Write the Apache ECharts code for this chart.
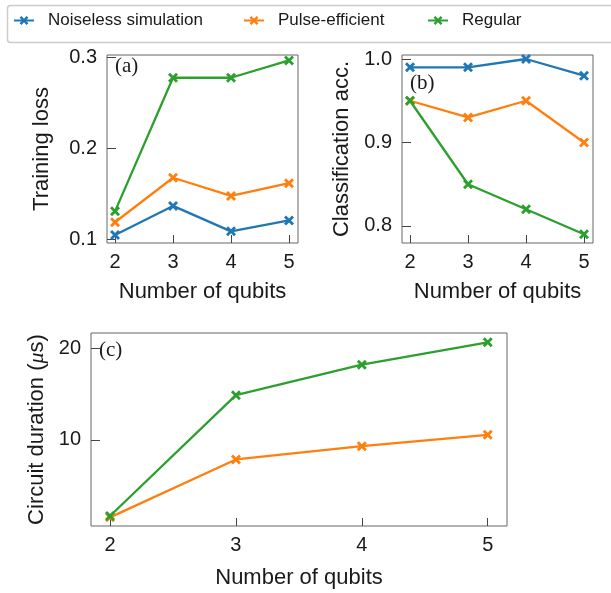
<!DOCTYPE html>
<html>
<head>
<meta charset="utf-8">
<script src="https://cdn.jsdelivr.net/npm/echarts@6/dist/echarts.min.js"></script>
<style>
html,body{margin:0;padding:0;background:#fff;}
#chart{width:611px;height:593px;}
</style>
</head>
<body>
<div id="chart"></div>
<script>
// ---- data ----
const qubits = [2, 3, 4, 5];
const seriesNames = ['Noiseless simulation', 'Pulse-efficient', 'Regular'];
const lossNoiseless = [0.105, 0.137, 0.109, 0.121];
const lossPulse = [0.119, 0.168, 0.148, 0.162];
const lossRegular = [0.131, 0.278, 0.278, 0.297];
const accNoiseless = [0.99, 0.99, 1.0, 0.98];
const accPulse = [0.95, 0.93, 0.95, 0.90];
const accRegular = [0.95, 0.85, 0.82, 0.79];
const durPulse = [1.5, 7.85, 9.3, 10.55];
const durRegular = [1.65, 14.9, 18.25, 20.7];
const panelLabels = ['(a)', '(b)', '(c)'];

const colors = ['#1f77b4', '#ff7f0e', '#2ca02c'];
const FONT = 'Liberation Sans';
const SERIF = 'Liberation Serif';
const XSYM = 'path://M0,2L2,0L5,3L8,0L10,2L7,5L10,8L8,10L5,7L2,10L0,8L3,5Z';

const pairs = (ys) => qubits.map((q, i) => [q, ys[i]]);

function xAxis(gridIndex, min, max, nameGap) {
  return {
    type: 'value', gridIndex, min, max, splitNumber: 3,
    name: 'Number of qubits', nameLocation: 'middle', nameGap,
    nameTextStyle: {fontFamily: FONT, fontSize: 22, color: '#1a1a1a'},
    axisLine: {show: false},
    axisTick: {show: true, inside: true, length: 8, lineStyle: {color: '#444', width: 1}},
    axisLabel: {showMinLabel: false, showMaxLabel: false, margin: 9,
      fontFamily: FONT, fontSize: 20, color: '#1a1a1a', formatter: v => String(Math.round(v))},
    splitLine: {show: false}
  };
}
function yAxis(gridIndex, min, max, name, nameGap, fmt, rich) {
  return {
    type: 'value', gridIndex, min, max, splitNumber: 2,
    name, nameLocation: 'middle', nameGap,
    nameTextStyle: {fontFamily: FONT, fontSize: 22, color: '#1a1a1a', rich: rich || {}},
    axisLine: {show: false},
    axisTick: {show: true, inside: true, length: 9, lineStyle: {color: '#444', width: 1}},
    axisLabel: {showMinLabel: false, showMaxLabel: false, margin: 10,
      fontFamily: FONT, fontSize: 20, color: '#1a1a1a', formatter: fmt},
    splitLine: {show: false}
  };
}
function line(name, xi, ys, colorIdx) {
  return {
    name, type: 'line', xAxisIndex: xi, yAxisIndex: xi,
    data: pairs(ys), symbol: XSYM, symbolSize: 10, showSymbol: true,
    lineStyle: {width: 2.3, color: colors[colorIdx]},
    itemStyle: {color: colors[colorIdx]},
    animation: false
  };
}
function legend(name, left) {
  return {
    data: [name], left, top: 12, padding: 0,
    itemWidth: 20, itemHeight: 11,
    textStyle: {fontFamily: FONT, fontSize: 17, color: '#1a1a1a', padding: [0, 0, 0, 9]}
  };
}

const chart = echarts.init(document.getElementById('chart'), null, {renderer: 'canvas'});
const gridStyle = {show: true, borderColor: '#666666', borderWidth: 1, backgroundColor: 'transparent'};
chart.setOption({
  animation: false,
  color: colors,
  legend: [
    legend(seriesNames[0], 13),
    legend(seriesNames[1], 243),
    legend(seriesNames[2], 427)
  ],
  grid: [
    Object.assign({left: 107, top: 55, width: 191, height: 188}, gridStyle),
    Object.assign({left: 402, top: 55, width: 191, height: 188}, gridStyle),
    Object.assign({left: 91, top: 333, width: 416, height: 193}, gridStyle)
  ],
  xAxis: [
    xAxis(0, 1.862, 5.155, 38),
    xAxis(1, 1.862, 5.155, 38),
    xAxis(2, 1.849, 5.153, 41)
  ],
  yAxis: [
    yAxis(0, 0.0962, 0.3030, 'Training loss', 54, v => v.toFixed(1)),
    yAxis(1, 0.7796, 1.0048, 'Classification acc.', 49, v => v.toFixed(1)),
    yAxis(2, 0.55, 21.72, '{t|Circuit duration (}{m|μ}{t|s)}', 38, v => String(Math.round(v)),
      {t: {fontFamily: FONT, fontSize: 22, color: '#1a1a1a'},
       m: {fontFamily: SERIF, fontStyle: 'italic', fontSize: 22, color: '#1a1a1a'}})
  ],
  series: [
    line(seriesNames[0], 0, lossNoiseless, 0),
    line(seriesNames[1], 0, lossPulse, 1),
    line(seriesNames[2], 0, lossRegular, 2),
    line(seriesNames[0], 1, accNoiseless, 0),
    line(seriesNames[1], 1, accPulse, 1),
    line(seriesNames[2], 1, accRegular, 2),
    line(seriesNames[1], 2, durPulse, 1),
    line(seriesNames[2], 2, durRegular, 2)
  ],
  graphic: [
    {type: 'rect', left: 5, top: 3, shape: {width: 640, height: 37, r: 3},
     style: {fill: 'none', stroke: '#cccccc', lineWidth: 1.5}, z: -1},
    {type: 'text', left: 115, top: 56, style: {text: panelLabels[0], font: '21px "' + SERIF + '"', fill: '#1a1a1a'}},
    {type: 'text', left: 410, top: 73, style: {text: panelLabels[1], font: '21px "' + SERIF + '"', fill: '#1a1a1a'}},
    {type: 'text', left: 99, top: 340, style: {text: panelLabels[2], font: '21px "' + SERIF + '"', fill: '#1a1a1a'}}
  ]
});
</script>
</body>
</html>
